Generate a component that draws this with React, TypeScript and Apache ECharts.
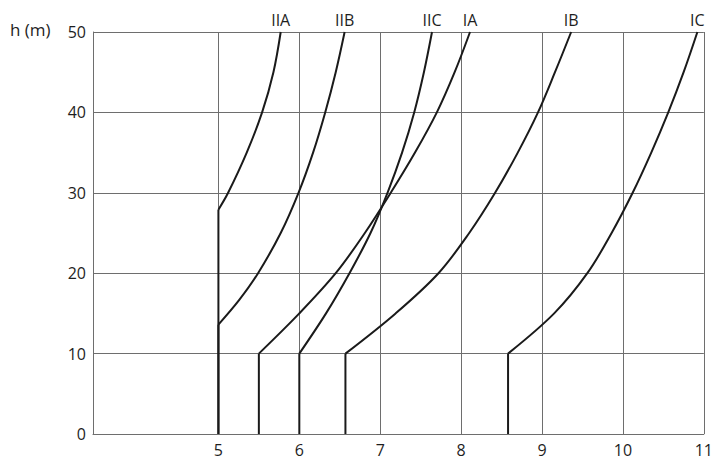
import React, { useEffect, useRef } from "react";
import * as echarts from "echarts";

// x ticks
const xTickValues = [5, 6, 7, 8, 9, 10, 11];
const curveNames = ["IIA", "IIB", "IIC", "IA", "IB", "IC"];

// vertical segments: [x, hTop]
const verticalStarts: [number, number][] = [
  [5, 27.9],
  [5, 13.6],
  [6, 10],
  [5.5, 10],
  [6.57, 10],
  [8.58, 10],
];

// curved parts: [x, h]
const curveIIA: [number, number][] = [[5, 27.9], [5.12, 30], [5.35, 35], [5.54, 40], [5.68, 45], [5.77, 50]];
const curveIIB: [number, number][] = [[5, 13.6], [5.26, 16.7], [5.49, 20], [5.77, 25], [5.99, 30], [6.17, 35], [6.32, 40], [6.45, 45], [6.56, 50]];
const curveIIC: [number, number][] = [[6, 10], [6.33, 15], [6.62, 20], [6.88, 25], [7.09, 30], [7.27, 35], [7.42, 40], [7.54, 45], [7.64, 50]];
const curveIA: [number, number][] = [[5.5, 10], [6.0, 15], [6.45, 20], [6.81, 25], [7.13, 30], [7.43, 35], [7.7, 40], [7.92, 45], [8.11, 50]];
const curveIB: [number, number][] = [[6.57, 10], [7.19, 15], [7.72, 20], [8.1, 25], [8.42, 30], [8.7, 35], [8.95, 40], [9.16, 45], [9.36, 50]];
const curveIC: [number, number][] = [[8.58, 10], [9.15, 15], [9.56, 20], [9.86, 25], [10.12, 30], [10.35, 35], [10.56, 40], [10.75, 45], [10.92, 50]];

const curves = [curveIIA, curveIIB, curveIIC, curveIA, curveIB, curveIC];

const FONT = "'Open Sans', 'Noto Sans', sans-serif";
const GRID_COLOR = "#6e6e6e";
const CURVE_COLOR = "#1a1a1a";
const TEXT_COLOR = "#1e1e1e";

export default function App() {
  const ref = useRef<HTMLDivElement>(null);
  useEffect(() => {
    if (!ref.current) return;
    const chart = echarts.init(ref.current, null, { renderer: "svg" });
    const series: any[] = [];
    // vertical grid lines via markLine
    series.push({
      type: "line",
      data: [],
      silent: true,
      markLine: {
        silent: true,
        symbol: "none",
        label: { show: false },
        lineStyle: { color: GRID_COLOR, width: 1, type: "solid" },
        data: xTickValues.map((v) => ({ xAxis: v })),
      },
    });
    verticalStarts.forEach(([x, h]) => {
      series.push({
        type: "line",
        data: [[x, 0], [x, h]],
        showSymbol: false,
        symbol: "none",
        lineStyle: { color: CURVE_COLOR, width: 2 },
        z: 5,
      });
    });
    curves.forEach((c, i) => {
      series.push({
        type: "line",
        smooth: 0.35,
        symbol: "circle",
        symbolSize: 0,
        showSymbol: true,
        lineStyle: { color: CURVE_COLOR, width: 2 },
        itemStyle: { color: CURVE_COLOR },
        z: 5,
        data: c.map((p, j) =>
          j === c.length - 1
            ? {
                value: p,
                label: {
                  show: true,
                  position: "top",
                  distance: 4,
                  formatter: curveNames[i],
                  color: TEXT_COLOR,
                  fontSize: 16,
                  fontFamily: FONT,
                },
              }
            : { value: p }
        ),
      });
    });

    chart.setOption({
      animation: false,
      backgroundColor: "#ffffff",
      grid: { left: 93, right: 7, top: 32, bottom: 26 },
      xAxis: {
        type: "value",
        min: 3.45,
        max: 11,
        splitLine: { show: false },
        axisLine: { show: true, lineStyle: { color: GRID_COLOR, width: 1 } },
        axisTick: { show: false },
        axisLabel: {
          show: true,
          customValues: xTickValues,
          color: TEXT_COLOR,
          fontSize: 16,
          fontFamily: FONT,
          margin: 8,
        },
      },
      yAxis: {
        type: "value",
        min: 0,
        max: 50,
        interval: 10,
        splitLine: { show: true, lineStyle: { color: GRID_COLOR, width: 1 } },
        axisLine: { show: true, lineStyle: { color: GRID_COLOR, width: 1 } },
        axisTick: { show: false },
        axisLabel: {
          color: TEXT_COLOR,
          fontSize: 16,
          fontFamily: FONT,
          margin: 7,
        },
      },
      graphic: [
        {
          type: "text",
          left: 10,
          top: 21,
          style: { text: "h (m)", fill: TEXT_COLOR, fontSize: 17, fontFamily: FONT },
        },
      ],
      series,
    });
    return () => chart.dispose();
  }, []);
  return <div ref={ref} style={{ width: 716, height: 460, position: "absolute", left: 0, top: 0 }} />;
}
